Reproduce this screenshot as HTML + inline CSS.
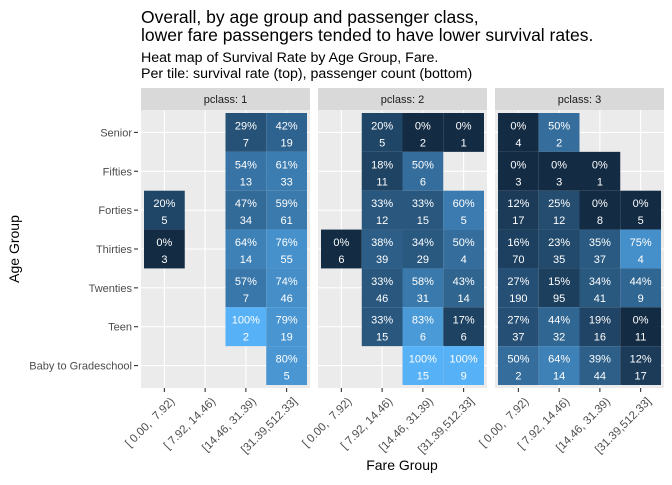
<!DOCTYPE html>
<html><head><meta charset="utf-8"><style>
body{margin:0;background:#fff}
svg text{font-family:"Liberation Sans",Arial,sans-serif}
</style></head><body>
<svg id="c" width="672" height="480" xmlns="http://www.w3.org/2000/svg">
<text x="141" y="23" font-size="17.5" fill="#000">Overall, by age group and passenger class,</text>
<text x="141" y="41" font-size="17.5" fill="#000">lower fare passengers tended to have lower survival rates.</text>
<text x="141" y="62" font-size="14.2" fill="#000">Heat map of Survival Rate by Age Group, Fare.</text>
<text x="141" y="78" font-size="14.2" fill="#000">Per tile: survival rate (top), passenger count (bottom)</text>
<text transform="translate(19,249) rotate(-90)" text-anchor="middle" font-size="14">Age Group</text>
<text x="402" y="470" text-anchor="middle" font-size="14">Fare Group</text>
<g id="g"></g>
</svg>
<script>
const ageGroups=["Senior","Fifties","Forties","Thirties","Twenties","Teen","Baby to Gradeschool"];
const fareGroups=["[ 0.00,  7.92)","[ 7.92, 14.46)","[14.46, 31.39)","[31.39,512.33]"];
const classes=["1","2","3"];
// rates[class][row][col] (%), null = missing
const rates=[
[[null,null,29,42],[null,null,54,61],[20,null,47,59],[0,null,64,76],[null,null,57,74],[null,null,100,79],[null,null,null,80]],
[[null,20,0,0],[null,18,50,null],[null,33,33,60],[0,38,34,50],[null,33,58,43],[null,33,83,17],[null,null,100,100]],
[[0,50,null,null],[0,0,0,null],[12,25,0,0],[16,23,35,75],[27,15,34,44],[27,44,19,0],[50,64,39,12]]
];
const counts=[
[[null,null,7,19],[null,null,13,33],[5,null,34,61],[3,null,14,55],[null,null,7,46],[null,null,2,19],[null,null,null,5]],
[[null,5,2,1],[null,11,6,null],[null,12,15,5],[6,39,29,4],[null,46,31,14],[null,15,6,6],[null,null,15,9]],
[[4,2,null,null],[3,3,1,null],[17,12,8,5],[70,35,37,4],[190,95,41,9],[37,32,16,11],[2,14,44,17]]
];
const NS="http://www.w3.org/2000/svg",g=document.getElementById('g');
function mk(t,a,p){const e=document.createElementNS(NS,t);for(const k in a)e.setAttribute(k,a[k]);(p||g).appendChild(e);return e;}
const panelX=[141,318,495],panelW=169,panelTop=110,panelBot=388,pad=3;
const colW=(panelW-2*pad)/4,rowH=(panelBot-panelTop-2*pad)/7;
const xPos=(p,c)=>panelX[p]+pad+colW*(c+0.5);
const yPos=r=>panelTop+pad+rowH*(r+0.5);
function col(v){const a=[19,43,67],b=[86,177,247];const t=v/100;return `rgb(${a.map((x,i)=>Math.round(x+(b[i]-x)*t)).join(',')})`;}
ageGroups.forEach((a,r)=>{
 const t=mk('text',{x:132,y:yPos(r)+4,'text-anchor':'end','font-size':'11',fill:'#4d4d4d'});t.textContent=a;
 
 
 const l=mk('line',{x1:134,x2:138,y1:yPos(r),y2:yPos(r),stroke:'#333','stroke-width':1.1});
 
 
});
classes.forEach((cl,p)=>{
 const s=mk('rect',{x:panelX[p],y:88,width:panelW,height:22,fill:'#d9d9d9'});
 
 
 const st=mk('text',{x:panelX[p]+panelW/2,y:103,'text-anchor':'middle','font-size':'11',fill:'#1a1a1a'});st.textContent='pclass: '+cl;
 
 
 const bg=mk('rect',{x:panelX[p],y:panelTop,width:panelW,height:panelBot-panelTop,fill:'#ebebeb'});
 
 
 for(let r=0;r<7;r++){const l=mk('line',{x1:panelX[p],x2:panelX[p]+panelW,y1:yPos(r),y2:yPos(r),stroke:'#fff','stroke-width':1.1});}
 for(let c=0;c<4;c++){
  const x=xPos(p,c);
  const l=mk('line',{x1:x,x2:x,y1:panelTop,y2:panelBot,stroke:'#fff','stroke-width':1.1});
  
  
  const tk=mk('line',{x1:x,x2:x,y1:panelBot,y2:panelBot+4,stroke:'#333','stroke-width':1.1});
  
  
  const t=mk('text',{transform:`translate(${x+11},${panelBot+14}) rotate(-45)`,'text-anchor':'end','font-size':'11.5',fill:'#4d4d4d'});
  t.setAttribute('xml:space','preserve');
  t.style.whiteSpace='pre';
  t.textContent=fareGroups[c];
  
  
 }
 for(let r=0;r<7;r++)for(let c=0;c<4;c++){
  const v=rates[p][r][c];if(v===null)continue;
  const x=xPos(p,c),y=yPos(r);
  const rc=mk('rect',{x:x-colW/2,y:y-rowH/2,width:colW,height:rowH,fill:col(v)});
  
  
  const t1=mk('text',{x:x,y:y-3,'text-anchor':'middle','font-size':'11',fill:'#fff'});t1.textContent=v+'%';
  
  
  const t2=mk('text',{x:x,y:y+14,'text-anchor':'middle','font-size':'11',fill:'#fff'});t2.textContent=counts[p][r][c];
  
  
 }
});
</script>
</body></html>
